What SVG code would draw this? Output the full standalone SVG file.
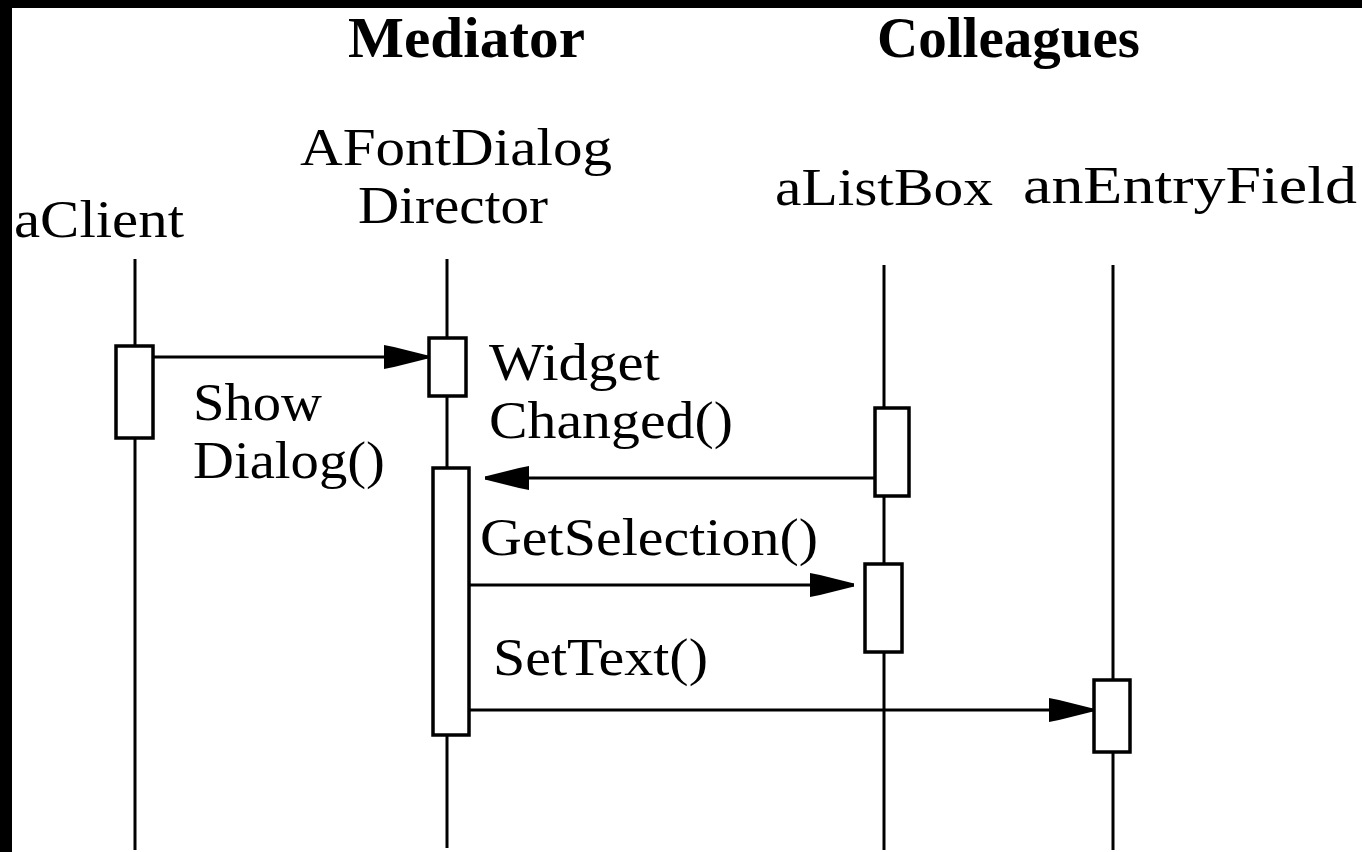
<svg xmlns="http://www.w3.org/2000/svg" width="1362" height="852" viewBox="0 0 1362 852">
  <style>
    .frame { fill: #000; }
    .life { stroke: #000; stroke-width: 3; fill: none; }
    .act { fill: #fff; stroke: #000; stroke-width: 3.5; }
    .msg { stroke: #000; stroke-width: 3; fill: none; marker-end: url(#head); }
    .title { font-family: "Liberation Serif", "Times New Roman", serif; font-weight: bold; font-size: 58px; fill: #000; }
    .name { font-family: "Liberation Serif", "Times New Roman", serif; font-size: 52px; fill: #000; }
    .label { font-family: "Liberation Serif", "Times New Roman", serif; font-size: 52px; fill: #000; }
  </style>
  <defs>
    <!-- filled head with a broad square back, tapering to the tip -->
    <marker id="head" viewBox="0 0 44 24" refX="44" refY="12" markerWidth="44" markerHeight="24" markerUnits="userSpaceOnUse" orient="auto">
      <path d="M0,0 L10,2 L24,5.5 L44,10.5 L44,13.5 L24,18.5 L10,22 L0,24 Z" fill="#000"/>
    </marker>
  </defs>

  <rect width="1362" height="852" fill="#fff"/>
  <!-- dark frame along top and left edges -->
  <rect class="frame" x="0" y="0" width="1362" height="8"/>
  <rect class="frame" x="0" y="0" width="12" height="852"/>

  <!-- section headings -->
  <text class="title" x="348" y="57" textLength="237" lengthAdjust="spacingAndGlyphs">Mediator</text>
  <text class="title" x="877" y="57" textLength="263" lengthAdjust="spacingAndGlyphs">Colleagues</text>

  <g id="aClient">
    <text class="name" x="14" y="237" textLength="170" lengthAdjust="spacingAndGlyphs">aClient</text>
    <line class="life" x1="135" y1="259" x2="135" y2="850"/>
    <rect class="act" x="116" y="346" width="37" height="92"/>
  </g>

  <g id="director">
    <text class="name" x="300" y="165" textLength="312" lengthAdjust="spacingAndGlyphs">AFontDialog</text>
    <text class="name" x="358" y="223" textLength="190" lengthAdjust="spacingAndGlyphs">Director</text>
    <line class="life" x1="447" y1="259" x2="447" y2="848"/>
    <rect class="act" x="429" y="338" width="37" height="58"/>
    <rect class="act" x="433" y="468" width="36" height="267"/>
  </g>

  <g id="aListBox">
    <text class="name" x="775" y="205" textLength="218" lengthAdjust="spacingAndGlyphs">aListBox</text>
    <line class="life" x1="884" y1="265" x2="884" y2="850"/>
    <rect class="act" x="875" y="408" width="34" height="88"/>
    <rect class="act" x="865" y="564" width="37" height="88"/>
  </g>

  <g id="anEntryField">
    <text class="name" x="1023" y="203" textLength="334" lengthAdjust="spacingAndGlyphs">anEntryField</text>
    <line class="life" x1="1113" y1="265" x2="1113" y2="850"/>
    <rect class="act" x="1094" y="680" width="36" height="72"/>
  </g>

  <g id="connectors">
    <line class="msg" x1="153" y1="357" x2="428" y2="357"/>
    <line class="msg" x1="875" y1="478" x2="485" y2="478"/>
    <line class="msg" x1="469" y1="585" x2="854" y2="585"/>
    <line class="msg" x1="469" y1="710" x2="1093" y2="710"/>
  </g>

  <g id="labels">
    <text class="label" x="193" y="420" textLength="129" lengthAdjust="spacingAndGlyphs">Show</text>
    <text class="label" x="193" y="478" textLength="192" lengthAdjust="spacingAndGlyphs">Dialog()</text>
    <text class="label" x="489" y="380" textLength="171" lengthAdjust="spacingAndGlyphs">Widget</text>
    <text class="label" x="489" y="438" textLength="244" lengthAdjust="spacingAndGlyphs">Changed()</text>
    <text class="label" x="480" y="555" textLength="338" lengthAdjust="spacingAndGlyphs">GetSelection()</text>
    <text class="label" x="493" y="675" textLength="215" lengthAdjust="spacingAndGlyphs">SetText()</text>
  </g>
</svg>
